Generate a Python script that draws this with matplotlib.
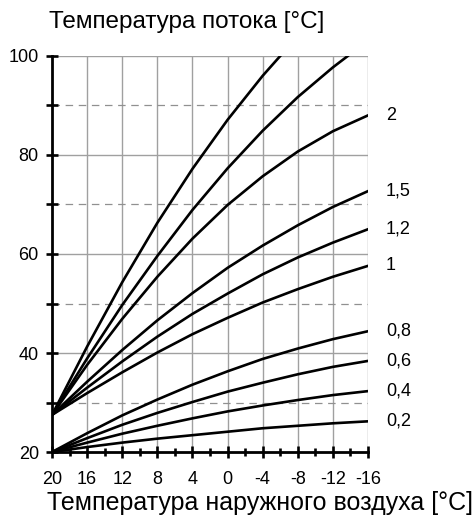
import numpy as np
import matplotlib
matplotlib.use("Agg")
import matplotlib.pyplot as plt

plt.rcParams['font.family'] = ['Liberation Sans', 'DejaVu Sans']

# outdoor temperature grid [°C]
x_grid = [20, 16, 12, 8, 4, 0, -4, -8, -12, -16]

# two steepest curves (not labelled), they leave the chart at 100 °C
x_a = [20, 16, 12, 8, 4, 0, -4, -6]
y_a = [27.5, 41.3, 54.3, 66.3, 77.2, 87.1, 96.0, 100]
x_b = [20, 16, 12, 8, 4, 0, -4, -8, -12, -13.7]
y_b = [27.5, 38.9, 49.7, 59.6, 68.9, 77.3, 84.9, 91.7, 97.7, 100]

# labelled curves on x_grid
curve_labels = ["2", "1,5", "1,2", "1", "0,8", "0,6", "0,4", "0,2"]
y_2 = [27.5, 37.6, 46.9, 55.4, 63.1, 69.9, 75.7, 80.7, 84.8, 88.0]
y_15 = [27.5, 34.2, 40.6, 46.6, 52.1, 57.2, 61.7, 65.8, 69.5, 72.7]
y_12 = [27.5, 33.0, 38.3, 43.3, 47.9, 52.0, 55.9, 59.3, 62.3, 65.0]
y_1 = [27.5, 31.9, 36.1, 40.1, 43.8, 47.1, 50.2, 52.9, 55.4, 57.6]
y_08 = [20, 23.8, 27.4, 30.6, 33.6, 36.3, 38.8, 40.9, 42.8, 44.4]
y_06 = [20, 22.8, 25.5, 27.9, 30.1, 32.2, 34.0, 35.7, 37.2, 38.4]
y_04 = [20, 21.9, 23.7, 25.3, 26.8, 28.2, 29.4, 30.5, 31.5, 32.3]
y_02 = [20, 21.0, 21.9, 22.7, 23.4, 24.1, 24.8, 25.3, 25.8, 26.2]
labelled = [y_2, y_15, y_12, y_1, y_08, y_06, y_04, y_02]

x_ticks = [20, 16, 12, 8, 4, 0, -4, -8, -12, -16]
y_ticks = [20, 40, 60, 80, 100]

fig = plt.figure(figsize=(4.73, 5.15), dpi=100)
ax = fig.add_axes([0.110, 0.1223, 0.668, 0.769])

ax.set_xlim(20, -16)
ax.set_ylim(20, 100)

# grid
for xv in [16, 12, 8, 4, 0, -4, -8, -12, -16]:
    ax.axvline(xv, color='#a0a0a0', lw=1.0, zorder=1)
for yv in [40, 60, 80, 100]:
    ax.axhline(yv, color='#a0a0a0', lw=1.0, zorder=1)
for yv in [30, 50, 70, 90]:
    ax.axhline(yv, color='#909090', lw=0.9, dashes=(6, 4.5), zorder=1)

# curves
ax.plot(x_a, y_a, color='black', lw=1.9, solid_joinstyle='round', zorder=3)
ax.plot(x_b, y_b, color='black', lw=1.9, solid_joinstyle='round', zorder=3)
for yy, lab in zip(labelled, curve_labels):
    ax.plot(x_grid, yy, color='black', lw=1.9, solid_joinstyle='round', zorder=3)
    ax.annotate(lab, xy=(-16, yy[-1]), xytext=(13, 0), textcoords='offset points',
                ha='left', va='center', fontsize=13, annotation_clip=False)

ax.spines['top'].set_visible(False)
ax.spines['right'].set_visible(False)
ax.spines['left'].set_linewidth(2.0)
ax.spines['bottom'].set_linewidth(2.0)
ax.spines['left'].set_zorder(4)
ax.spines['bottom'].set_zorder(4)

ax.set_xticks(x_ticks)
ax.set_xticklabels([str(v) for v in x_ticks])
ax.set_xticks([18, 14, 10, 6, 2, -2, -6, -10, -14], minor=True)
ax.set_yticks(y_ticks)
ax.set_yticks([30, 50, 70, 90], minor=True)
ax.tick_params(axis='both', which='both', direction='inout', width=1.9, color='black', labelsize=13)
ax.tick_params(axis='y', which='both', length=9, pad=5)
ax.tick_params(axis='x', which='major', length=9, pad=9)
ax.tick_params(axis='x', which='minor', length=6)

fig.text(0.104, 0.958, "Температура потока [°C]", fontsize=17.5, ha='left', va='center')
fig.text(0.100, 0.023, "Температура наружного воздуха [°C]", fontsize=18, ha='left', va='center')

fig.savefig("out.png", dpi=100)
